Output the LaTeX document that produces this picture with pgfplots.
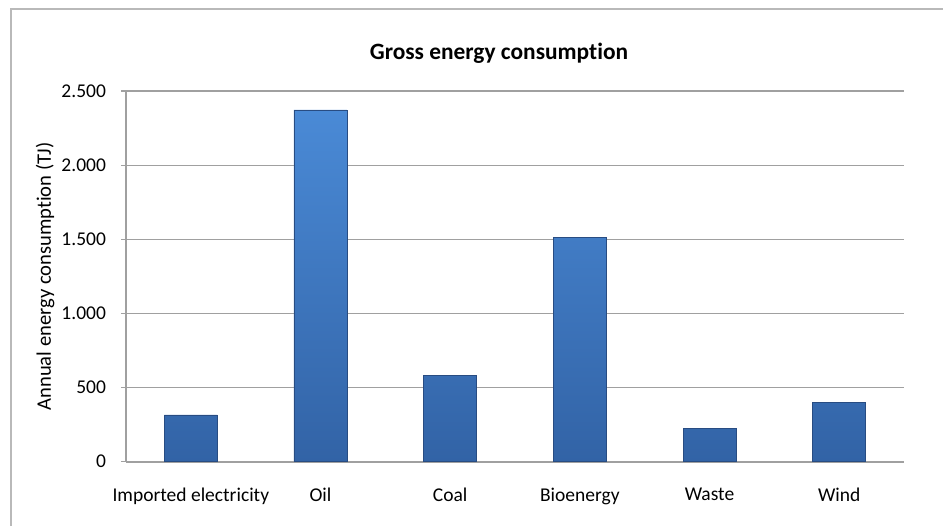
\documentclass[border=0pt]{standalone}
\usepackage{fontspec}
\setmainfont{Carlito}[Ligatures={NoCommon}]
\usepackage{pgfplots}
\pgfplotsset{compat=1.18}
\definecolor{gridgray}{RGB}{160,160,160}
\definecolor{framegray}{RGB}{185,185,185}
\definecolor{bartop}{RGB}{74,138,214}
\definecolor{barbot}{RGB}{50,99,166}
\definecolor{baredge}{RGB}{40,76,130}
\begin{document}
\begin{tikzpicture}
\useasboundingbox (0,0) rectangle (471.5pt,263pt);
\draw[framegray, line width=0.8pt] (5.5pt,0) -- (5.5pt,258.5pt) -- (471.5pt,258.5pt);
\node[font=\bfseries\fontsize{11.7}{14}\selectfont] at (249.5pt,236.5pt) {Gross energy consumption};
\begin{axis}[
    at={(63pt,32.15pt)}, anchor=south west,
    width=389pt, height=185.35pt, scale only axis,
    ybar, bar width=26.5pt,
    xmin=-0.5, xmax=5.5, ymin=0, ymax=2500,
    ytick={0,500,1000,1500,2000,2500},
    xtick={0,1,2,3,4,5},
    xticklabels={Imported electricity, Oil, Coal, Bioenergy, Waste, Wind},
    axis x line*=bottom, axis y line*=left,
    axis line style={gridgray, line width=0.8pt},
    ymajorgrids, grid style={gridgray, line width=0.6pt},
    x tick style={draw=none},
    y tick style={gridgray, line width=0.6pt},
    tick align=outside, major tick length=2.5pt,
    tick label style={font=\fontsize{9.75}{12}\selectfont},
    label style={font=\fontsize{10.3}{12}\selectfont},
    ylabel={Annual energy consumption (TJ)},
    ylabel style={at={(axis description cs:-0.104,0.5)}, anchor=center},
    yticklabel style={anchor=east, xshift=-4pt},
    xticklabel style={anchor=north, yshift=-7pt},
    /pgf/number format/.cd, 1000 sep={.}, assume math mode=true,
]
\addplot[draw=baredge, top color=bartop, bottom color=barbot] coordinates {
    (0,315) (1,2372) (2,583) (3,1513) (4,227) (5,400)
};
\end{axis}
\end{tikzpicture}
\end{document}
